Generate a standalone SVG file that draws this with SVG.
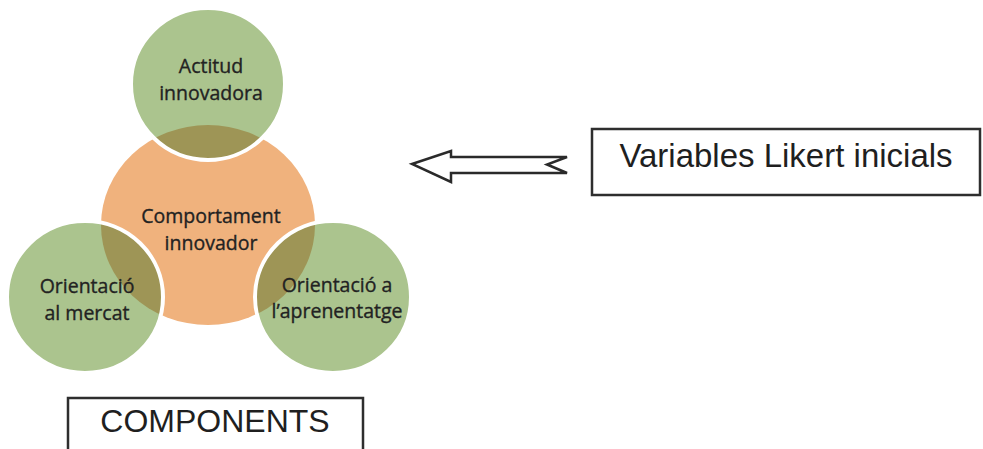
<svg xmlns="http://www.w3.org/2000/svg" width="983" height="449" viewBox="0 0 983 449">
<style>
.green{fill:#abc48e}
.olive{fill:#9e9556}
.ring{fill:none;stroke:#ffffff;stroke-width:4}
.lbl{font-family:"Open Sans","Noto Sans",sans-serif;font-size:19.5px;fill:#222222;stroke:#222222;stroke-width:0.35;text-anchor:middle}
.box{fill:#ffffff;stroke:#2e2e2e;stroke-width:2.5}
.boxtxt{font-family:"Liberation Sans",Arial,sans-serif;fill:#1f1f1f;text-anchor:middle}
</style>
<defs>
<clipPath id="orangeClip"><ellipse cx="208" cy="225" rx="107" ry="100"/></clipPath>
</defs>
<rect width="983" height="449" fill="#ffffff"/>
<g id="comportament">
<ellipse cx="208" cy="225" rx="107" ry="100" fill="#f0b27d"/>
</g>
<g id="actitud">
<ellipse class="green" cx="208" cy="84" rx="77" ry="76"/>
<ellipse class="olive" cx="208" cy="84" rx="77" ry="76" clip-path="url(#orangeClip)"/>
<ellipse class="ring" cx="208" cy="84" rx="77" ry="76"/>
<text class="lbl" x="211" y="73">Actitud</text>
<text class="lbl" x="211" y="100">innovadora</text>
</g>
<g id="mercat">
<ellipse class="green" cx="85" cy="297" rx="78" ry="76"/>
<ellipse class="olive" cx="85" cy="297" rx="78" ry="76" clip-path="url(#orangeClip)"/>
<ellipse class="ring" cx="85" cy="297" rx="78" ry="76"/>
<text class="lbl" x="87" y="293">Orientació</text>
<text class="lbl" x="87" y="320">al mercat</text>
</g>
<g id="aprenentatge">
<ellipse class="green" cx="333" cy="297" rx="78" ry="76"/>
<ellipse class="olive" cx="333" cy="297" rx="78" ry="76" clip-path="url(#orangeClip)"/>
<ellipse class="ring" cx="333" cy="297" rx="78" ry="76"/>
<text class="lbl" x="337" y="292">Orientació a</text>
<text class="lbl" x="337" y="318">l’aprenentatge</text>
</g>
<g id="comportament-label">
<text class="lbl" x="211" y="223">Comportament</text>
<text class="lbl" x="211" y="250">innovador</text>
</g>
<g id="variables">
<rect class="box" x="592" y="129" width="388" height="66"/>
<text class="boxtxt" x="786" y="167" font-size="33">Variables Likert inicials</text>
</g>
<g id="components">
<rect class="box" x="68" y="398" width="295" height="60"/>
<text class="boxtxt" x="215" y="432" font-size="32">COMPONENTS</text>
</g>
<g id="connectors">
<path d="M412,164 L451,151 L451,157 L567,157 L547,164.5 L567,173 L451,173 L451,182 Z" fill="#ffffff" stroke="#2a2a2a" stroke-width="2.5" stroke-linejoin="miter"/>
</g>
</svg>
